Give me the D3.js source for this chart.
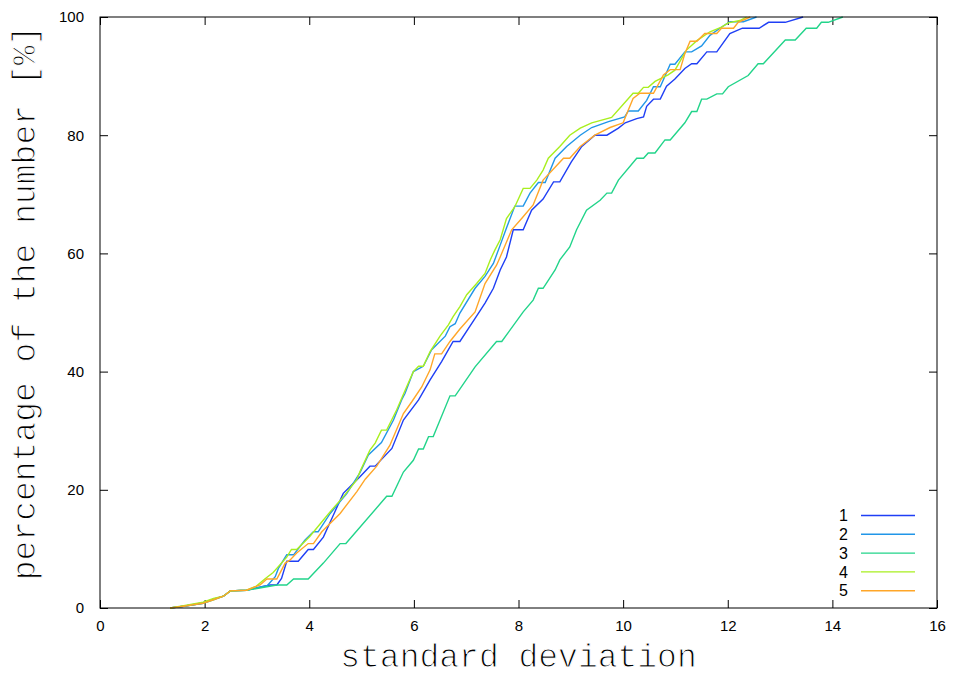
<!DOCTYPE html>
<html><head><meta charset="utf-8">
<script src="https://cdn.jsdelivr.net/npm/d3@7"></script>
<style>body{margin:0;background:#fff}svg{display:block}</style>
</head><body>
<script>
const xTicks = [0,2,4,6,8,10,12,14,16];
const yTicks = [0,20,40,60,80,100];
const seriesNames = ["1","2","3","4","5"];
const seriesColors = ["#1f3ff5","#2196e8","#22d48a","#a8ef1f","#ffa628"];
const xLabel = "standard deviation";
const yLabel = "percentage of the number [%]";

const s1 = [[1.34,0],[1.6,0.3],[1.97,0.8],[2.17,1.5],[2.36,2.0],[2.49,2.9],[2.80,3.0],[3.25,3.9],[3.38,3.9],[3.47,5.0],[3.57,7.9],[3.79,7.9],[3.98,9.9],[4.08,9.9],[4.27,12.0],[4.46,15.7],[4.65,19.4],[4.97,22.2],[5.16,24.0],[5.26,24.0],[5.58,27.0],[5.80,31.8],[6.09,35.2],[6.31,38.6],[6.53,41.7],[6.75,45.1],[6.88,45.1],[7.17,49.0],[7.36,51.6],[7.52,54.1],[7.65,57.2],[7.77,59.4],[7.90,64.0],[8.09,64.0],[8.25,67.3],[8.47,69.2],[8.67,72.1],[8.79,72.1],[9.01,75.5],[9.21,78.1],[9.46,80.0],[9.69,80.0],[9.91,81.2],[10.04,82.1],[10.26,82.8],[10.39,83.1],[10.45,84.9],[10.58,86.1],[10.71,86.1],[10.83,88.3],[10.99,89.5],[11.18,91.3],[11.31,92.1],[11.41,92.1],[11.60,94.1],[11.79,94.1],[12.04,97.2],[12.28,98.1],[12.60,98.1],[12.78,99.1],[13.10,99.1],[13.44,100]];
const s2 = [[1.34,0],[1.6,0.3],[1.97,0.9],[2.17,1.5],[2.36,2.0],[2.49,2.9],[2.80,3.0],[3.2,3.8],[3.35,5.3],[3.41,6.7],[3.57,9.0],[3.70,9.0],[3.92,11.5],[4.08,12.9],[4.17,12.9],[4.40,16.0],[4.72,19.4],[4.97,22.9],[5.13,25.9],[5.38,28.0],[5.61,31.8],[5.77,35.3],[5.83,36.3],[5.99,40.0],[6.18,40.9],[6.34,43.7],[6.60,46.0],[6.69,47.6],[6.79,48.1],[6.88,49.9],[7.17,54.1],[7.36,56.1],[7.52,58.3],[7.65,61.4],[7.77,64.3],[7.93,68.0],[8.09,68.0],[8.22,70.2],[8.38,72.0],[8.51,72.0],[8.70,76.1],[8.92,78.1],[9.18,80.0],[9.40,81.3],[9.72,82.3],[10.03,83.1],[10.10,84.1],[10.29,84.1],[10.45,85.9],[10.58,88.2],[10.71,88.2],[10.90,92.0],[10.99,92.0],[11.18,94.1],[11.31,94.1],[11.50,95.1],[11.66,96.9],[11.85,98.1],[12.04,99.2],[12.30,99.2],[12.55,100]];
const s3 = [[1.34,0],[1.6,0.3],[1.97,0.8],[2.17,1.4],[2.36,2.0],[2.49,2.9],[2.80,3.0],[3.38,3.9],[3.57,3.9],[3.70,4.9],[3.98,4.9],[4.27,7.6],[4.59,10.9],[4.70,10.9],[5.48,18.9],[5.58,18.9],[5.80,23.0],[5.99,25.0],[6.09,26.9],[6.18,26.9],[6.28,29.0],[6.37,29.0],[6.69,35.9],[6.79,35.9],[7.17,40.8],[7.58,45.1],[7.68,45.1],[8.09,50.1],[8.28,52.1],[8.38,54.1],[8.47,54.1],[8.70,57.2],[8.79,58.9],[8.98,61.1],[9.11,64.0],[9.30,67.3],[9.56,69.0],[9.69,70.2],[9.78,70.2],[9.91,72.4],[10.26,76.1],[10.39,76.1],[10.48,77.0],[10.61,77.0],[10.80,79.2],[10.90,79.2],[11.18,82.1],[11.31,84.0],[11.41,84.0],[11.50,86.1],[11.60,86.1],[11.79,87.0],[11.90,87.0],[12.01,88.2],[12.39,90.1],[12.58,92.1],[12.68,92.1],[13.10,96.1],[13.29,96.1],[13.50,98.1],[13.70,98.1],[13.79,99.1],[13.92,99.1],[14.2,100]];
const s4 = [[1.34,0],[1.6,0.4],[1.97,1.0],[2.17,1.6],[2.36,2.0],[2.49,2.9],[2.80,3.0],[2.99,3.7],[3.15,4.9],[3.31,6.0],[3.57,8.6],[3.66,9.9],[3.76,9.9],[4.01,12.1],[4.27,14.9],[4.43,16.6],[4.65,18.8],[4.91,21.7],[4.97,23.1],[5.16,26.7],[5.26,27.9],[5.38,30.1],[5.48,30.1],[5.67,33.5],[5.86,37.4],[5.99,40.0],[6.09,40.9],[6.18,40.9],[6.31,43.4],[6.50,46.0],[6.66,47.9],[6.75,49.3],[6.88,51.0],[7.01,53.0],[7.20,54.9],[7.36,56.6],[7.46,58.9],[7.55,60.6],[7.65,62.3],[7.77,65.9],[7.93,67.9],[8.09,71.0],[8.22,71.0],[8.35,72.4],[8.47,74.1],[8.57,76.1],[8.79,78.1],[8.98,80.0],[9.18,81.2],[9.40,82.1],[9.78,83.0],[10.19,87.1],[10.29,87.1],[10.39,88.1],[10.48,88.1],[10.61,89.1],[10.86,90.2],[10.99,91.0],[11.21,94.4],[11.41,96.0],[11.66,97.5],[11.88,98.3],[12.01,99.0],[12.23,99.4],[12.36,100]];
const s5 = [[1.34,0],[1.6,0.3],[1.97,0.8],[2.17,1.4],[2.36,2.0],[2.49,2.9],[2.80,3.0],[3.06,3.9],[3.19,4.9],[3.38,4.9],[3.54,7.6],[3.63,8.1],[3.76,9.3],[3.98,10.9],[4.08,10.9],[4.24,12.9],[4.59,16.0],[4.91,19.7],[5.07,21.8],[5.29,24.0],[5.54,27.5],[5.80,32.9],[5.96,34.9],[6.15,37.4],[6.31,40.3],[6.40,43.0],[6.53,43.0],[6.69,45.1],[6.88,47.2],[7.17,50.1],[7.36,54.9],[7.58,58.0],[7.65,59.4],[7.87,64.0],[8.06,65.9],[8.28,68.2],[8.47,72.4],[8.86,76.1],[8.98,76.1],[9.18,78.1],[9.46,80.0],[9.75,81.3],[10.0,82.1],[10.19,86.2],[10.32,87.1],[10.58,87.1],[10.77,90.2],[10.90,91.1],[11.09,91.1],[11.18,93.8],[11.28,95.9],[11.41,95.9],[11.56,97.2],[11.79,97.2],[11.88,98.1],[12.11,98.1],[12.20,99.1],[12.43,100]];
const allSeries = [s1,s2,s3,s4,s5];

const W = 954, H = 678;
const m = {left:100, right:17, top:17, bottom:70};
const svg = d3.select("body").append("svg").attr("width",W).attr("height",H);
const x = d3.scaleLinear().domain([0,16]).range([m.left, W-m.right]);
const y = d3.scaleLinear().domain([0,100]).range([H-m.bottom, m.top]);
const tickFont = "'Liberation Sans', Arial, sans-serif";
const monoFont = "'Liberation Mono', 'DejaVu Sans Mono', monospace";
const tl = 8;

const gx = svg.append("g").attr("transform",`translate(0,${y(0)})`)
  .call(d3.axisBottom(x).tickValues(xTicks).tickSize(-tl).tickPadding(12).tickFormat(d3.format("d")));
const gxt = svg.append("g").attr("transform",`translate(0,${y(100)})`)
  .call(d3.axisTop(x).tickValues(xTicks).tickSize(-tl).tickFormat(""));
const gy = svg.append("g").attr("transform",`translate(${x(0)},0)`)
  .call(d3.axisLeft(y).tickValues(yTicks).tickSize(-tl).tickPadding(16).tickFormat(d3.format("d")));
const gyr = svg.append("g").attr("transform",`translate(${x(16)},0)`)
  .call(d3.axisRight(y).tickValues(yTicks).tickSize(-tl).tickFormat(""));
[gx,gxt,gy,gyr].forEach(g=>{
  g.select(".domain").remove();
  g.selectAll(".tick line").attr("stroke","#000").attr("stroke-width",1);
  g.selectAll(".tick text").attr("font-family",tickFont).attr("font-size",15).attr("fill","#000");
});
gx.selectAll(".tick text").attr("dy","0.71em");

const line = d3.line().x(d=>x(d[0])).y(d=>y(d[1]));
allSeries.forEach((s,i)=>{
  svg.append("path").datum(s).attr("d",line).attr("fill","none")
    .attr("stroke",seriesColors[i]).attr("stroke-width",1.4).attr("stroke-linejoin","miter");
});

svg.append("rect").attr("x",x(0)).attr("y",y(100)).attr("width",x(16)-x(0)).attr("height",y(0)-y(100))
  .attr("fill","none").attr("stroke","#000").attr("stroke-width",1);

const lg = svg.append("g");
seriesNames.forEach((n,i)=>{
  const ly = 515.5 + i*18.8;
  lg.append("text").attr("x",848).attr("y",ly).attr("dy","0.36em").attr("text-anchor","end")
    .attr("font-family",tickFont).attr("font-size",16).attr("fill","#000").text(n);
  lg.append("line").attr("x1",861).attr("x2",915).attr("y1",ly).attr("y2",ly)
    .attr("stroke",seriesColors[i]).attr("stroke-width",1.4);
});

// axis titles (thin Courier-like look)
svg.append("text").attr("x",(x(0)+x(16))/2).attr("y",667).attr("text-anchor","middle")
  .attr("font-family",monoFont).attr("font-size",33).attr("fill","#000")
  .attr("stroke","#fff").attr("stroke-width",1.1).text(xLabel);
svg.append("text").attr("transform",`translate(35,303) rotate(-90)`).attr("text-anchor","middle")
  .attr("font-family",monoFont).attr("font-size",33).attr("fill","#000")
  .attr("stroke","#fff").attr("stroke-width",1.1).text(yLabel);
</script>
</body></html>
